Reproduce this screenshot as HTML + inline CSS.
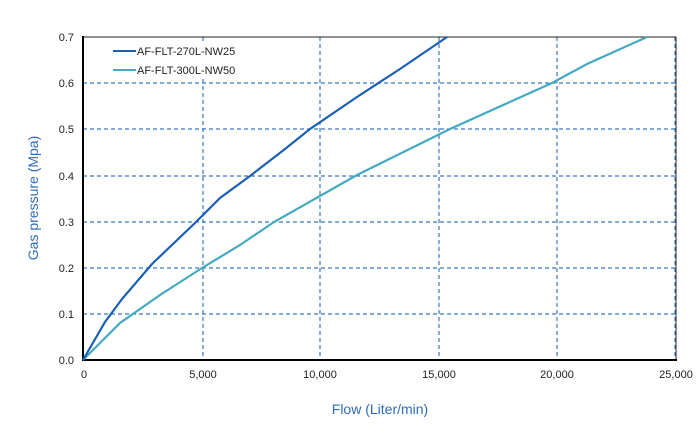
<!DOCTYPE html><html><head><style>body{margin:0;background:#fff}svg{display:block}text{font-family:"Liberation Sans",sans-serif}</style></head><body>
<svg width="700" height="444" viewBox="0 0 700 444">
<g stroke="#3b78c0" stroke-width="1.2" stroke-dasharray="4,3">
<line x1="83" y1="314" x2="676" y2="314"/><line x1="83" y1="268" x2="676" y2="268"/><line x1="83" y1="222" x2="676" y2="222"/><line x1="83" y1="176" x2="676" y2="176"/><line x1="83" y1="129" x2="676" y2="129"/><line x1="83" y1="83" x2="676" y2="83"/>
<line x1="203" y1="37" x2="203" y2="360"/><line x1="320" y1="37" x2="320" y2="360"/><line x1="439" y1="37" x2="439" y2="360"/><line x1="557" y1="37" x2="557" y2="360"/><line x1="675" y1="37" x2="675" y2="360"/>
</g>
<rect x="100" y="44" width="145" height="35" fill="#fff"/>
<rect x="83" y="37" width="593" height="323" fill="none" stroke="#222" stroke-width="1"/>
<line x1="83" y1="36" x2="83" y2="361" stroke="#000" stroke-width="2"/>
<line x1="82" y1="360" x2="677" y2="360" stroke="#000" stroke-width="2"/>
<polyline fill="none" stroke="#45a9c0" stroke-width="2.2" points="83,360 120,323 160,295 202,268 240,245 274,222 357,175 450,129 552,83 587,64 647,37"/>
<polyline fill="none" stroke="#1a5fb4" stroke-width="2.2" points="83,360 105,322 122,299 152,264 196,222 220,198 250,176 285,149 310,129 357,97 400,69 447,37"/>
<line x1="113" y1="51" x2="136" y2="51" stroke="#1a5fb4" stroke-width="2"/>
<line x1="113" y1="70" x2="136" y2="70" stroke="#45a9c0" stroke-width="2"/>
<g font-size="11" fill="#222"><text x="137" y="55">AF-FLT-270L-NW25</text><text x="137" y="74">AF-FLT-300L-NW50</text></g>
<g font-size="11" fill="#222" text-anchor="end"><text x="74" y="364">0.0</text><text x="74" y="318">0.1</text><text x="74" y="272">0.2</text><text x="74" y="226">0.3</text><text x="74" y="180">0.4</text><text x="74" y="133">0.5</text><text x="74" y="87">0.6</text><text x="74" y="41">0.7</text></g>
<g font-size="11" fill="#222" text-anchor="middle"><text x="84" y="378">0</text><text x="203" y="378">5,000</text><text x="320" y="378">10,000</text><text x="439" y="378">15,000</text><text x="557" y="378">20,000</text><text x="676" y="378">25,000</text></g>
<text x="380" y="414" font-size="14" fill="#2e6db5" text-anchor="middle">Flow (Liter/min)</text>
<text transform="translate(38,198) rotate(-90)" font-size="14" fill="#2e6db5" text-anchor="middle">Gas pressure (Mpa)</text>
</svg></body></html>
